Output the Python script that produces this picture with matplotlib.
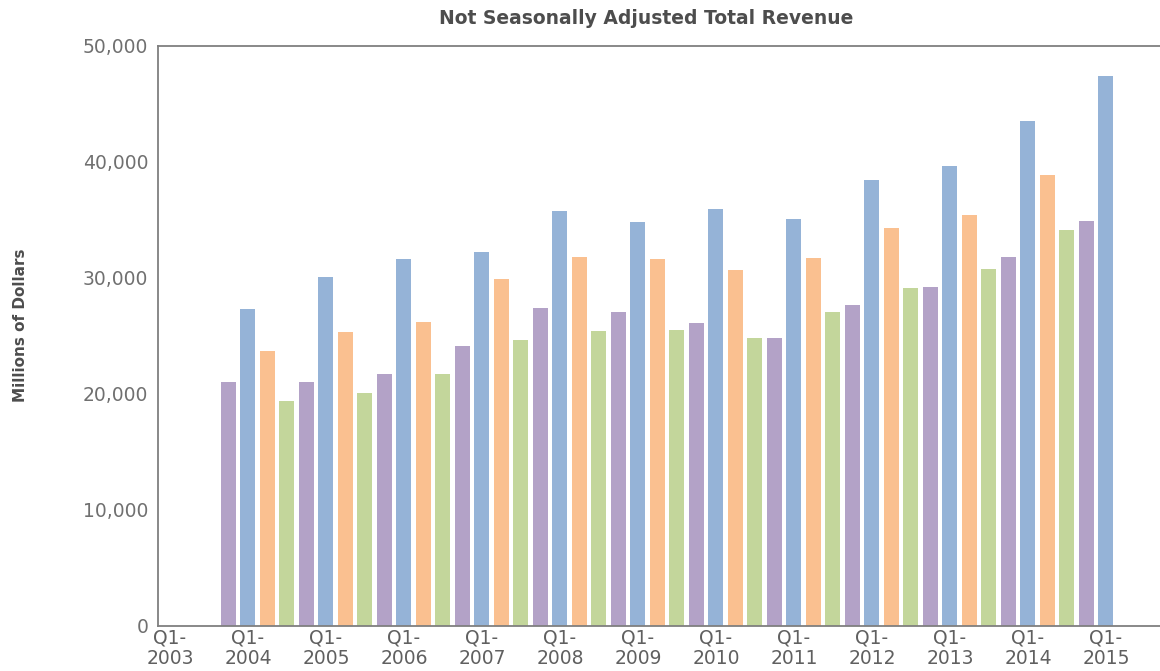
"""Quarterly total revenue, not seasonally adjusted, as a bar chart."""

import matplotlib

matplotlib.use("Agg")
import matplotlib.pyplot as plt
import numpy as np

# Category axis runs Q1-2003 .. Q1-2015; data starts at Q4-2003
years = list(range(2003, 2016))
first_data_quarter = 3  # index of Q4-2003 on the category axis

# Millions of dollars, Q4-2003 .. Q1-2015
revenue = [
    21000,
    27300, 23700, 19400, 21000,
    30100, 25350, 20050, 21700,
    31600, 26200, 21700, 24100,
    32200, 29950, 24650, 27450,
    35800, 31850, 25450, 27100,
    34850, 31650, 25500, 26150,
    35950, 30650, 24850, 24850,
    35100, 31700, 27100, 27650,
    38450, 34350, 29150, 29250,
    39650, 35450, 30800, 31800,
    43500, 38850, 34150, 34950,
    47400,
]

# One colour per quarter of the year: Q1, Q2, Q3, Q4
quarter_colors = ["#95b3d7", "#fac090", "#c3d69b", "#b3a2c7"]

tick_labels = [f"Q1-\n{y}" for y in years]


def _apply_style() -> None:
    plt.rcParams.update({
        "font.family": "DejaVu Sans",
        "font.size": 12,
        "axes.edgecolor": "#7f7f7f",
        "axes.linewidth": 1.3,
    })


def main() -> None:
    _apply_style()

    fig = plt.figure(figsize=(11.6, 6.71), dpi=100)
    ax = fig.add_axes([0.1362, 0.0671, 0.8638, 0.8644])

    x = np.arange(first_data_quarter, first_data_quarter + len(revenue))
    colors = [quarter_colors[i % 4] for i in x]
    ax.bar(x, revenue, width=0.77, color=colors, linewidth=0)

    ax.set_xlim(-0.615, 50.77)
    ax.set_ylim(0, 50000)

    ax.set_yticks(np.arange(0, 50001, 10000))
    ax.set_yticklabels([f"{v:,}" for v in range(0, 50001, 10000)])
    ax.set_xticks(np.arange(0, 4 * len(years), 4))
    ax.set_xticklabels(tick_labels, linespacing=1.05)

    ax.tick_params(axis="y", length=0, pad=7, labelsize=13.5, labelcolor="#707070")
    ax.tick_params(axis="x", length=0, pad=2, labelsize=13.5, labelcolor="#606060")

    ax.spines["right"].set_visible(False)

    fig.text(0.557, 0.973, "Not Seasonally Adjusted Total Revenue",
             ha="center", va="center", fontsize=13.5, fontweight="bold",
             color="#4d4d4d")
    fig.text(0.018, 0.516, "Millions of Dollars", rotation=90,
             ha="center", va="center", fontsize=11, fontweight="bold",
             color="#4d4d4d")

    fig.savefig("out.png", dpi=100)
    plt.close(fig)


if __name__ == "__main__":
    main()
